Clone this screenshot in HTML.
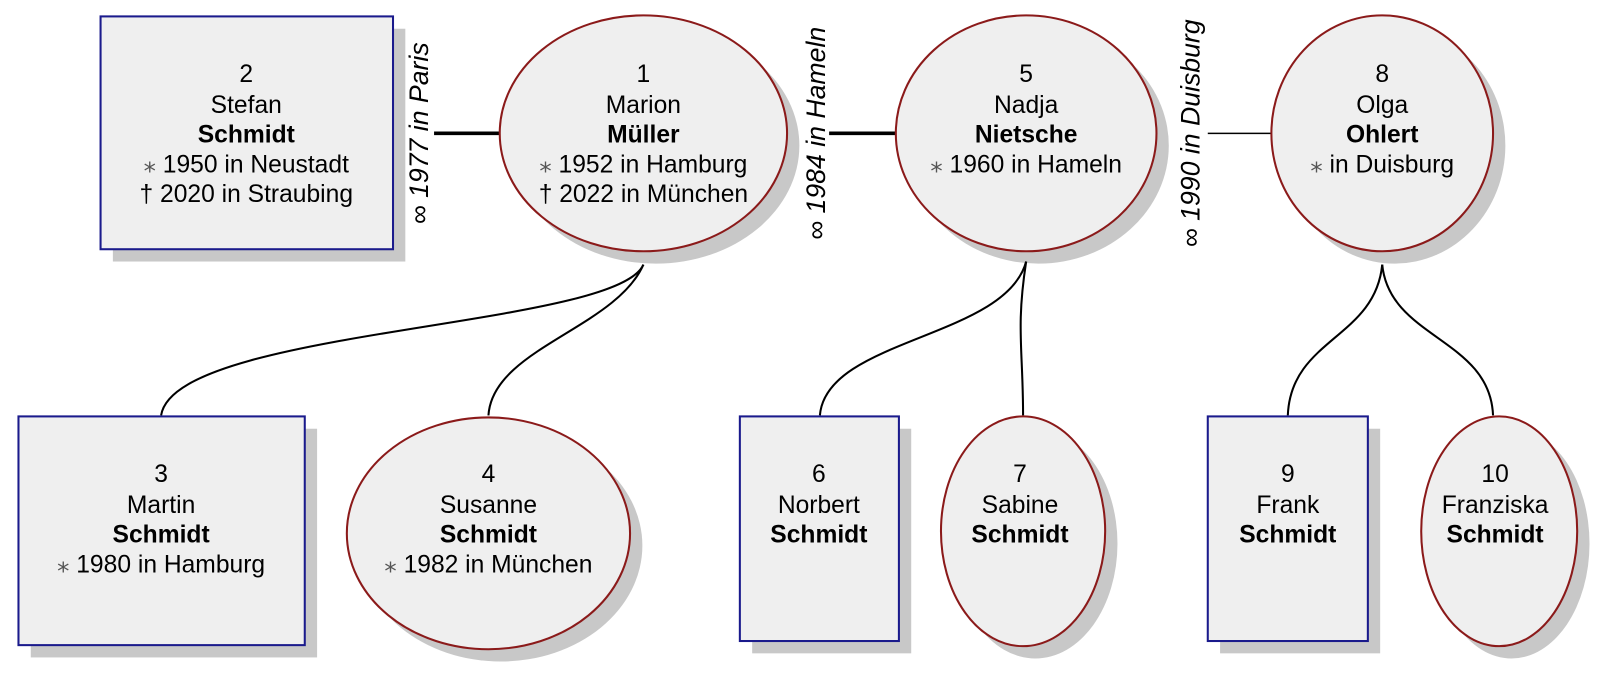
<!DOCTYPE html>
<html><head><meta charset="utf-8"><style>
html,body{margin:0;padding:0;background:#fff;}
svg{display:block;}
text{font-family:"Liberation Sans",sans-serif;font-size:24px;fill:#000;}
.b{font-weight:bold;}
.m{font-style:italic;font-size:26px;}
</style></head><body>
<svg width="1609" height="680" viewBox="0 0 1568 663" preserveAspectRatio="none" xmlns="http://www.w3.org/2000/svg">
<g fill="#c8c8c8">
<rect x="110" y="28" width="285" height="227"/>
<ellipse cx="639" cy="142" rx="140" ry="115"/>
<ellipse cx="1012" cy="142" rx="127" ry="115"/>
<ellipse cx="1359" cy="142" rx="108" ry="115"/>
<rect x="30" y="418" width="279" height="223"/>
<ellipse cx="488" cy="532" rx="138" ry="113"/>
<rect x="733" y="418" width="155" height="219"/>
<ellipse cx="1009" cy="530" rx="80" ry="112"/>
<rect x="1189" y="418" width="156" height="219"/>
<ellipse cx="1473" cy="530" rx="76" ry="112"/>
</g>
<g stroke="#000" fill="none" stroke-width="2">
<line x1="423" y1="130" x2="487" y2="130" stroke-width="3.5"/>
<line x1="808" y1="130" x2="873" y2="130" stroke-width="3.5"/>
<line x1="1177" y1="130" x2="1239" y2="130" stroke-width="1.5"/>
<path d="M627 258 C600 320 170 320 157 405"/>
<path d="M627 258 C600 320 480 340 476 405"/>
<path d="M1000 255 C980 330 805 330 799 405"/>
<path d="M1000 255 C990 320 997 340 997 405"/>
<path d="M1347 258 C1340 330 1258 330 1255 405"/>
<path d="M1347 258 C1354 330 1452 330 1455 405"/>
</g>
<g fill="#efefef">
<rect x="98" y="16" width="285" height="227" stroke="#1a1a8c" stroke-width="2"/>
<ellipse cx="627" cy="130" rx="140" ry="115" stroke="#8b1a1a" stroke-width="2"/>
<ellipse cx="1000" cy="130" rx="127" ry="115" stroke="#8b1a1a" stroke-width="2"/>
<ellipse cx="1347" cy="130" rx="108" ry="115" stroke="#8b1a1a" stroke-width="2"/>
<rect x="18" y="406" width="279" height="223" stroke="#1a1a8c" stroke-width="2"/>
<ellipse cx="476" cy="520" rx="138" ry="113" stroke="#8b1a1a" stroke-width="2"/>
<rect x="721" y="406" width="155" height="219" stroke="#1a1a8c" stroke-width="2"/>
<ellipse cx="997" cy="518" rx="80" ry="112" stroke="#8b1a1a" stroke-width="2"/>
<rect x="1177" y="406" width="156" height="219" stroke="#1a1a8c" stroke-width="2"/>
<ellipse cx="1461" cy="518" rx="76" ry="112" stroke="#8b1a1a" stroke-width="2"/>
</g>
<g text-anchor="middle">
<text x="240" y="80">2</text><text x="240" y="110">Stefan</text><text x="240" y="139" class="b">Schmidt</text><text x="240" y="168"><tspan fill="#555">⁎</tspan> 1950 in Neustadt</text><text x="240" y="197">† 2020 in Straubing</text>
<text x="627" y="80">1</text><text x="627" y="110">Marion</text><text x="627" y="139" class="b">Müller</text><text x="627" y="168"><tspan fill="#555">⁎</tspan> 1952 in Hamburg</text><text x="627" y="197">† 2022 in München</text>
<text x="1000" y="80">5</text><text x="1000" y="110">Nadja</text><text x="1000" y="139" class="b">Nietsche</text><text x="1000" y="168"><tspan fill="#555">⁎</tspan> 1960 in Hameln</text>
<text x="1347" y="80">8</text><text x="1347" y="110">Olga</text><text x="1347" y="139" class="b">Ohlert</text><text x="1347" y="168"><tspan fill="#555">⁎</tspan>  in Duisburg</text>
<text x="157" y="470">3</text><text x="157" y="500">Martin</text><text x="157" y="529" class="b">Schmidt</text><text x="157" y="558"><tspan fill="#555">⁎</tspan> 1980 in Hamburg</text>
<text x="476" y="470">4</text><text x="476" y="500">Susanne</text><text x="476" y="529" class="b">Schmidt</text><text x="476" y="558"><tspan fill="#555">⁎</tspan> 1982 in München</text>
<text x="798" y="470">6</text><text x="798" y="500">Norbert</text><text x="798" y="529" class="b">Schmidt</text>
<text x="994" y="470">7</text><text x="994" y="500">Sabine</text><text x="994" y="529" class="b">Schmidt</text>
<text x="1255" y="470">9</text><text x="1255" y="500">Frank</text><text x="1255" y="529" class="b">Schmidt</text>
<text x="1457" y="470">10</text><text x="1457" y="500">Franziska</text><text x="1457" y="529" class="b">Schmidt</text>
<text class="m" transform="translate(417,130) rotate(-90)">∞ 1977 in Paris</text>
<text class="m" transform="translate(804,130) rotate(-90)">∞ 1984 in Hameln</text>
<text class="m" transform="translate(1169,130) rotate(-90)">∞ 1990 in Duisburg</text>
</g>
</svg>
</body></html>
